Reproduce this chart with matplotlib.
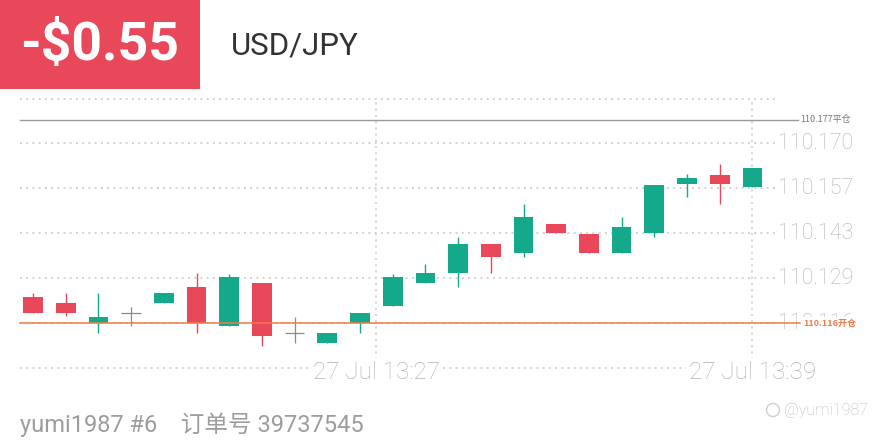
import matplotlib
matplotlib.use("Agg")
import matplotlib.pyplot as plt
import matplotlib.transforms as mtransforms
from matplotlib.patches import Rectangle, Ellipse

# ---------------- data ----------------
opens  = [110.1240, 110.1220, 110.1162, 110.1192, 110.1220, 110.1270, 110.1152, 110.1280,
          110.1132, 110.1102, 110.1162, 110.1212, 110.1280, 110.1310, 110.1398, 110.1370,
          110.1458, 110.1428, 110.1370, 110.1430, 110.1578, 110.1606, 110.1568]
closes = [110.1192, 110.1192, 110.1180, 110.1192, 110.1250, 110.1162, 110.1300, 110.1122,
          110.1132, 110.1130, 110.1190, 110.1300, 110.1310, 110.1398, 110.1360, 110.1478,
          110.1430, 110.1370, 110.1448, 110.1576, 110.1596, 110.1578, 110.1626]
highs  = [110.1250, 110.1250, 110.1252, 110.1210, 110.1250, 110.1310, 110.1308, 110.1280,
          110.1180, 110.1130, 110.1190, 110.1308, 110.1338, 110.1418, 110.1398, 110.1518,
          110.1458, 110.1428, 110.1480, 110.1576, 110.1608, 110.1638, 110.1626]
lows   = [110.1190, 110.1182, 110.1132, 110.1152, 110.1220, 110.1132, 110.1152, 110.1092,
          110.1102, 110.1102, 110.1132, 110.1212, 110.1280, 110.1270, 110.1310, 110.1360,
          110.1430, 110.1370, 110.1370, 110.1420, 110.1538, 110.1518, 110.1568]

ytick_values = [110.1700, 110.1565, 110.1430, 110.1295, 110.1160]
ytick_labels = ["110.170", "110.157", "110.143", "110.129", "110.116"]
date_positions = [10.5, 22]
date_labels = ["27 Jul 13:27", "27 Jul 13:39"]

close_price = 110.177
close_label = "110.177平仓"
open_price = 110.116
open_label = "110.116开仓"

pnl_text = "-$0.55"
symbol_text = "USD/JPY"
footer_text = "yumi1987 #6    订单号 39737545"
watermark_text = "@yumi1987"

# ---------------- style ----------------
UP = "#14A98A"
DOWN = "#E9475A"
DOJI = "#8a8a8a"
GRID = "#d2d2d2"
TICK = "#b4b4b4"
ORANGE = "#F47B48"
CJK = ["Noto Sans CJK SC", "DejaVu Sans"]
LATIN_CJK = ["Roboto", "Noto Sans CJK SC", "DejaVu Sans"]

W, H = 880, 440
fig = plt.figure(figsize=(8.8, 4.4), dpi=100)

# axes spanning pixels x 20..800, y 99..368
px_l, px_r, px_t, px_b = 20, 800, 99.3, 368.3
ax = fig.add_axes([px_l / W, 1 - px_b / H, (px_r - px_l) / W, (px_b - px_t) / H])
step_px = 32.7
x0_px = 33.0
ax.set_xlim((px_l - x0_px) / step_px, (px_r - x0_px) / step_px)
val_per_px = 0.0135 / 45.0
ax.set_ylim(110.170 - (px_b - 143.3) * val_per_px, 110.170 + (143.3 - px_t) * val_per_px)
for s in ax.spines.values():
    s.set_visible(False)
ax.set_xticks([])
ax.set_yticks([])
ax.patch.set_alpha(0)

xmin, xmax = ax.get_xlim()
ymin, ymax = ax.get_ylim()
grid_right = (777 - x0_px) / step_px

# horizontal dotted grid
for yv in [ymax] + ytick_values + [ymin]:
    ax.plot([xmin, grid_right], [yv, yv], color=GRID, lw=1.4,
            linestyle=(0, (1, 2.2)), zorder=1, clip_on=False)
# vertical dotted grid
for xv in date_positions:
    ax.plot([xv, xv], [ymin - 0.0012, ymax], color=GRID, lw=1.4,
            linestyle=(0, (1, 2.2)), zorder=1, clip_on=False)

# close line
ax.plot([xmin, (798 - x0_px) / step_px], [close_price, close_price],
        color="#9a9a9a", lw=1.0, zorder=2, clip_on=False)
ax.text((800 - x0_px) / step_px, close_price, close_label, family=CJK,
        fontsize=6.5, color="#777777", va="center", ha="left", zorder=5, clip_on=False)

# candles
bw = 0.6
for i, (o, c, h, l) in enumerate(zip(opens, closes, highs, lows)):
    if abs(c - o) < 1e-6:
        col = DOJI
        ax.vlines(i, l, h, color=col, lw=0.9, zorder=3)
        ax.hlines(o, i - bw / 2, i + bw / 2, color=col, lw=0.9, zorder=3)
        continue
    col = UP if c > o else DOWN
    ax.vlines(i, l, h, color=col, lw=1.0, zorder=3)
    ax.bar(i, abs(c - o), bottom=min(o, c), width=bw, color=col, zorder=4, linewidth=0)

# y tick labels (right side)
for yv, lab in zip(ytick_values, ytick_labels):
    ax.text((778 - x0_px) / step_px, yv, lab, fontsize=15.5, family="Roboto",
            fontweight="light", color=TICK, va="center", ha="left", zorder=2, clip_on=False)

# open line
ax.plot([xmin, (800 - x0_px) / step_px], [open_price, open_price],
        color=ORANGE, lw=1.1, zorder=5, clip_on=False)
ax.text((803 - x0_px) / step_px, open_price, open_label, family=CJK,
        fontsize=6.5, fontweight="bold", color=ORANGE, va="center", ha="left", zorder=6,
        clip_on=False, bbox=dict(boxstyle="square,pad=0.15", fc="white", ec="none"))

# date labels
trans_dates = mtransforms.blended_transform_factory(ax.transData, fig.transFigure)
for xv, lab in zip(date_positions, date_labels):
    ax.text(xv, 1 - 372 / H, lab, transform=trans_dates, fontsize=17.5, family="Roboto",
            fontweight="light", color=TICK, ha="center", va="center", zorder=2,
            bbox=dict(boxstyle="square,pad=0.1", fc="white", ec="none"))

# header
fig.patches.append(Rectangle((0, 1 - 89 / H), 200 / W, 89 / H, transform=fig.transFigure,
                             facecolor="#E9475A", edgecolor="none", zorder=0))
fig.text(100 / W, 1 - 46 / H, pnl_text, fontsize=38.5, family="Roboto", fontweight="bold",
         color="white", ha="center", va="center")
fig.text(231 / W, 1 - 46 / H, symbol_text, fontsize=22.5, family="Roboto",
         color="#333333", ha="left", va="center")

# footer
fig.text(20 / W, 1 - 425 / H, footer_text, fontsize=17, family=LATIN_CJK,
         color="#9d9d9d", ha="left", va="center")
fig.text(784 / W, 1 - 410 / H, watermark_text, fontsize=11.5, family="Roboto",
         fontweight="light", color="#bdbdbd", ha="left", va="center")
fig.patches.append(Ellipse((773 / W, 1 - 410 / H), 13 / W, 13 / H, transform=fig.transFigure,
                           fill=False, edgecolor="#d0d0d0", lw=1))

fig.savefig("out.png", dpi=100)
